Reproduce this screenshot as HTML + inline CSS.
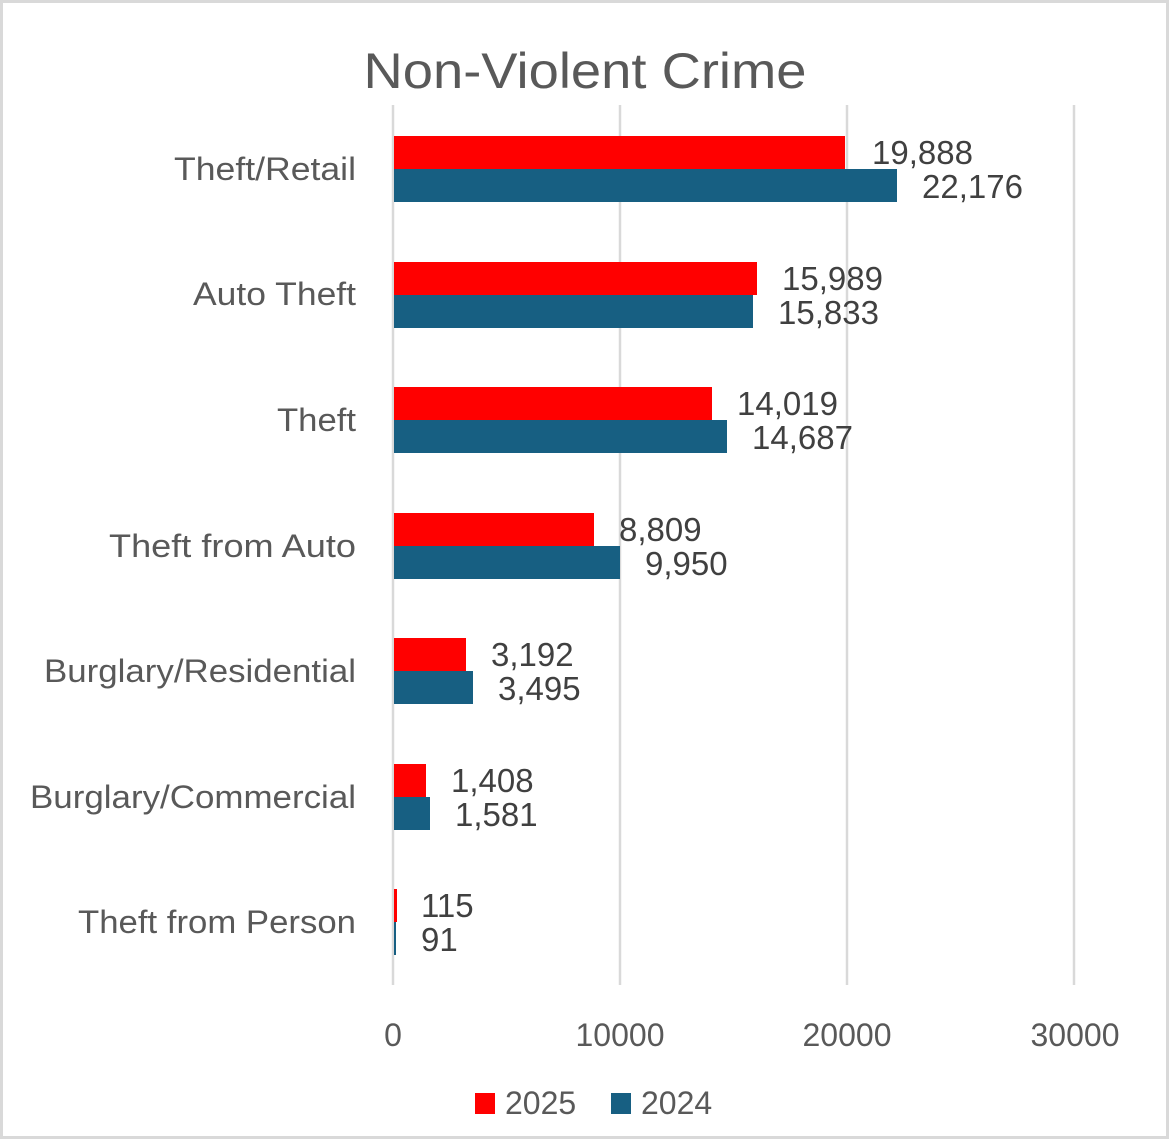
<!DOCTYPE html>
<html><head><meta charset="utf-8"><style>
html,body{margin:0;padding:0;background:#fff}
svg{display:block}
</style></head><body>
<svg width="1170" height="1141" viewBox="0 0 1170 1141" xmlns="http://www.w3.org/2000/svg" font-family="'Liberation Sans', sans-serif">
<rect x="0" y="0" width="1170" height="1141" fill="#fff"/>
<rect x="1.5" y="1.5" width="1166" height="1136" fill="none" stroke="#d9d9d9" stroke-width="3"/>
<text x="585" y="88" text-anchor="middle" font-size="50" fill="#595959" textLength="443" lengthAdjust="spacingAndGlyphs">Non-Violent Crime</text>
<g stroke="#d9d9d9" stroke-width="2.5">
<line x1="393" y1="105" x2="393" y2="985"/>
<line x1="620" y1="105" x2="620" y2="985"/>
<line x1="847" y1="105" x2="847" y2="985"/>
<line x1="1074" y1="105" x2="1074" y2="985"/>
</g>
<g font-size="32" fill="#595959" text-anchor="middle">
<text x="393" y="1046">0</text>
<text x="620" y="1046">10000</text>
<text x="847" y="1046">20000</text>
<text x="1075" y="1046">30000</text>
</g>
<g font-size="32" fill="#595959" text-anchor="end">
<text x="356" y="180" textLength="182" lengthAdjust="spacingAndGlyphs">Theft/Retail</text>
<text x="356" y="305" textLength="163" lengthAdjust="spacingAndGlyphs">Auto Theft</text>
<text x="356" y="431" textLength="79" lengthAdjust="spacingAndGlyphs">Theft</text>
<text x="356" y="557" textLength="247" lengthAdjust="spacingAndGlyphs">Theft from Auto</text>
<text x="356" y="682" textLength="312" lengthAdjust="spacingAndGlyphs">Burglary/Residential</text>
<text x="356" y="808" textLength="326" lengthAdjust="spacingAndGlyphs">Burglary/Commercial</text>
<text x="356" y="933" textLength="278" lengthAdjust="spacingAndGlyphs">Theft from Person</text>
</g>
<g>
<rect x="394" y="136" width="451" height="33" fill="#ff0000"/>
<rect x="394" y="169" width="503" height="33" fill="#175f82"/>
<rect x="394" y="262" width="363" height="33" fill="#ff0000"/>
<rect x="394" y="295" width="359" height="33" fill="#175f82"/>
<rect x="394" y="387" width="318" height="33" fill="#ff0000"/>
<rect x="394" y="420" width="333" height="33" fill="#175f82"/>
<rect x="394" y="513" width="200" height="33" fill="#ff0000"/>
<rect x="394" y="546" width="226" height="33" fill="#175f82"/>
<rect x="394" y="638" width="72" height="33" fill="#ff0000"/>
<rect x="394" y="671" width="79" height="33" fill="#175f82"/>
<rect x="394" y="764" width="32" height="33" fill="#ff0000"/>
<rect x="394" y="797" width="36" height="33" fill="#175f82"/>
<rect x="394" y="889" width="3" height="33" fill="#ff0000"/>
<rect x="394" y="922" width="2" height="33" fill="#175f82"/>
</g>
<g font-size="33" fill="#404040">
<text x="872" y="164">19,888</text>
<text x="922" y="198">22,176</text>
<text x="782" y="290">15,989</text>
<text x="778" y="324">15,833</text>
<text x="737" y="415">14,019</text>
<text x="752" y="449">14,687</text>
<text x="619" y="541">8,809</text>
<text x="645" y="575">9,950</text>
<text x="491" y="666">3,192</text>
<text x="498" y="700">3,495</text>
<text x="451" y="792">1,408</text>
<text x="455" y="826">1,581</text>
<text x="421" y="917">115</text>
<text x="421" y="951">91</text>
</g>
<rect x="475" y="1093" width="20" height="21" fill="#ff0000"/>
<text x="505" y="1114" font-size="32" fill="#595959">2025</text>
<rect x="611" y="1093" width="20" height="21" fill="#175f82"/>
<text x="641" y="1114" font-size="32" fill="#595959">2024</text>
</svg>
</body></html>
